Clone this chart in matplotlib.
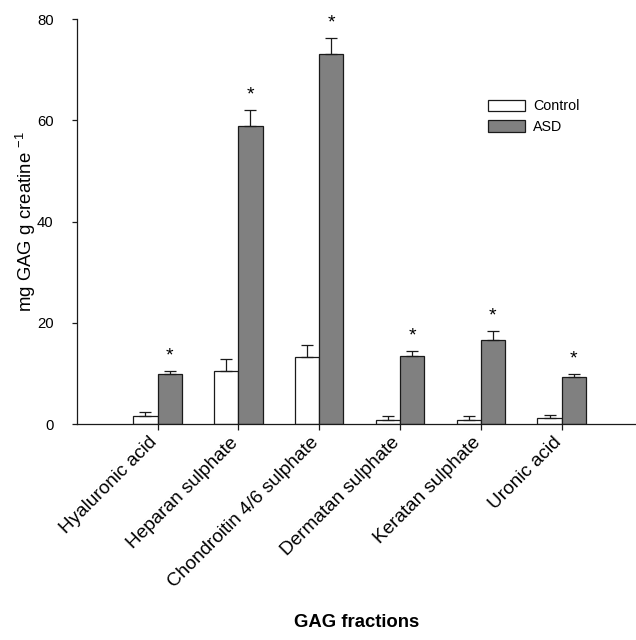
import matplotlib
matplotlib.use("Agg")
import matplotlib.pyplot as plt
import matplotlib.transforms as mtransforms
import numpy as np

plt.rcParams["font.family"] = ["Liberation Sans", "DejaVu Sans"]

fractions = ["Hyaluronic acid", "Heparan sulphate", "Chondroitin 4/6 sulphate",
             "Dermatan sulphate", "Keratan sulphate", "Uronic acid"]
control = [1.6, 10.5, 13.2, 0.8, 0.8, 1.25]
control_err = [0.8, 2.3, 2.5, 0.7, 0.7, 0.55]
asd = [9.8, 58.8, 73.1, 13.4, 16.5, 9.3]
asd_err = [0.7, 3.3, 3.2, 1.0, 1.9, 0.6]
yticks = [0, 20, 40, 60, 80]

EDGE = "#1a1a1a"
GREY = "#808080"

fig = plt.figure(figsize=(6.36, 6.40), dpi=100, facecolor="white")
ax = fig.add_axes([0.1206, 0.3375, 0.8794, 0.6328])

x = np.arange(1, len(fractions) + 1)
w = 0.3
zeros = [0] * len(x)
ax.bar(x - w / 2, control, w, color="white", edgecolor=EDGE, linewidth=0.9,
       yerr=[zeros, control_err], capsize=4.3,
       error_kw=dict(ecolor=EDGE, elinewidth=0.9, capthick=0.9),
       label="Control", zorder=2)
ax.bar(x + w / 2, asd, w, color=GREY, edgecolor=EDGE, linewidth=0.9,
       yerr=[zeros, asd_err], capsize=4.3,
       error_kw=dict(ecolor=EDGE, elinewidth=0.9, capthick=0.9),
       label="ASD", zorder=2)

# significance markers above the ASD bars
for xi, v, e in zip(x, asd, asd_err):
    ax.annotate("*", (xi + w / 2, v + e), xytext=(0, 7.5), textcoords="offset points",
                ha="center", va="baseline", fontsize=14, color="black")

ax.set_xlim(0, 6.92)
ax.set_ylim(0, 80)
ax.set_yticks(yticks)
ax.set_xticks(x)
ax.set_xticklabels(fractions, rotation=45, ha="right", va="baseline",
                   rotation_mode="anchor", fontsize=13.7)
# nudge the rotated labels slightly left of the tick
shift = mtransforms.ScaledTranslation(-2 / 100, 0, fig.dpi_scale_trans)
for lab in ax.get_xticklabels():
    lab.set_transform(lab.get_transform() + shift)
ax.tick_params(axis="y", labelsize=10.7, length=3.6, width=0.9, color=EDGE, pad=13)
ax.tick_params(axis="x", length=4.3, width=0.9, color=EDGE, pad=9.5)
for s in ("top", "right"):
    ax.spines[s].set_visible(False)
for s in ("left", "bottom"):
    ax.spines[s].set_color(EDGE)
    ax.spines[s].set_linewidth(0.9)

ax.set_ylabel(r"mg GAG g creatine $^{\mathregular{-1}}$", fontsize=13.4)
ax.yaxis.set_label_coords(-0.069, 0.5)
fig.text(0.561, 0.028, "GAG fractions", fontsize=13.3, fontweight="bold",
         ha="center", va="center")

ax.legend(loc="upper left", bbox_to_anchor=(487.7 / 636, 1 - 99.5 / 640),
          bbox_transform=fig.transFigure, frameon=False, fontsize=10.3,
          handlelength=2.64, handleheight=0.86, handletextpad=0.55,
          labelspacing=0.45, borderpad=0, borderaxespad=0)

fig.savefig("out.png", dpi=100, facecolor="white")
